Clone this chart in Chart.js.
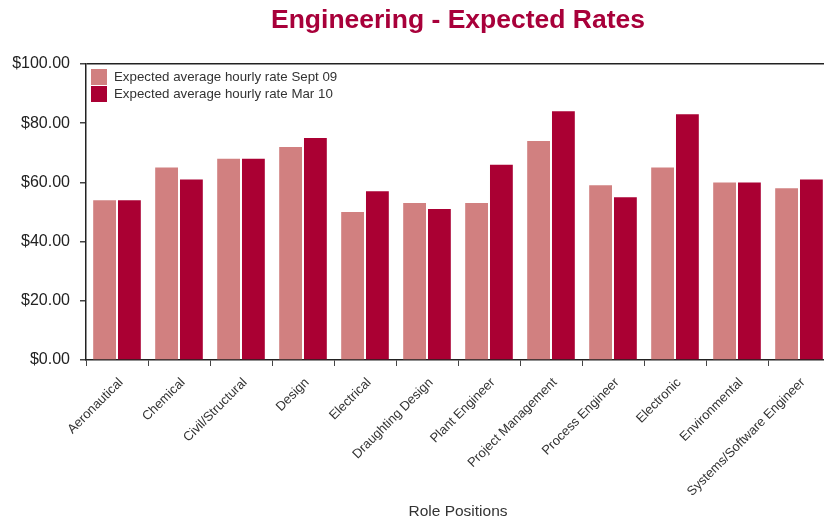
<!DOCTYPE html>
<html>
<head>
<meta charset="utf-8">
<script src="https://cdn.jsdelivr.net/npm/chart.js@4/dist/chart.umd.min.js"></script>
<style>
  html, body { margin: 0; padding: 0; background: #fff; overflow: hidden; }
  #wrap { width: 832px; height: 522px; }
</style>
</head>
<body>
<div id="wrap"><canvas id="ratesChart" width="832" height="522"></canvas></div>
<script>
// Données
const roles = ['Aeronautical', 'Chemical', 'Civil/Structural', 'Design', 'Electrical',
  'Draughting Design', 'Plant Engineer', 'Project Management', 'Process Engineer',
  'Electronic', 'Environmental', 'Systems/Software Engineer'];
const rateSept09 = [54, 65, 68, 72, 50, 53, 53, 74, 59, 65, 60, 58];
const rateMar10 = [54, 61, 68, 75, 57, 51, 66, 84, 55, 83, 60, 61];
const seriesNames = ['Expected average hourly rate Sept 09', 'Expected average hourly rate Mar 10'];
const yTicks = [0, 20, 40, 60, 80, 100];

const FONT = '"Liberation Sans", Arial, Helvetica, sans-serif';

// Légende dessinée dans la zone du graphique, en haut à gauche
const innerLegend = {
  id: 'innerLegend',
  afterDraw(chart) {
    const c = chart.ctx;
    const area = chart.chartArea;
    c.save();
    c.font = '13.3px ' + FONT;
    c.textBaseline = 'middle';
    chart.data.datasets.forEach((ds, i) => {
      const y = area.top + 5 + i * 17;
      c.fillStyle = ds.backgroundColor;
      c.fillRect(area.left + 5, y, 16, 16);
      c.fillStyle = '#333';
      c.fillText(ds.label, area.left + 28, y + 8.5);
    });
    c.restore();
  }
};

const ctx = document.getElementById('ratesChart').getContext('2d');
new Chart(ctx, {
  type: 'bar',
  data: {
    labels: roles,
    datasets: [
      { label: seriesNames[0], data: rateSept09, backgroundColor: '#d18080' },
      { label: seriesNames[1], data: rateMar10, backgroundColor: '#aa0033' }
    ]
  },
  options: {
    responsive: false,
    animation: false,
    layout: { padding: { left: 0, right: 2, top: 0, bottom: 0 } },
    datasets: { bar: { categoryPercentage: 0.8, barPercentage: 0.92 } },
    plugins: {
      legend: { display: false },
      tooltip: { enabled: false },
      title: {
        display: true,
        text: 'Engineering - Expected Rates',
        color: '#a8003a',
        fullSize: false,
        font: { family: FONT, size: 26.5, weight: 'bold' },
        padding: { top: 5, bottom: 27.2 }
      }
    },
    scales: {
      x: {
        grid: { display: true, color: 'transparent', tickColor: '#444', tickLength: 6, offset: true },
        border: { display: true, color: '#222', width: 1.5 },
        ticks: {
          color: '#333', maxRotation: 45, minRotation: 45, autoSkip: false,
          font: { family: FONT, size: 13 }, padding: 9, labelOffset: 4
        },
        title: {
          display: true, text: 'Role Positions', color: '#333',
          font: { family: FONT, size: 15.5 }, padding: { top: 4, bottom: 1 }
        },
        afterFit(scale) { scale.height = 162; }
      },
      y: {
        min: 0,
        max: 100,
        afterBuildTicks(scale) { scale.ticks = yTicks.map(v => ({ value: v })); },
        grid: {
          color: c => (c.tick && c.tick.value === 100 ? '#222' : 'transparent'),
          lineWidth: 1.5,
          tickColor: '#444',
          tickLength: 6
        },
        border: { display: true, color: '#222', width: 1.5 },
        ticks: {
          color: '#222', padding: 10,
          font: { family: FONT, size: 16 },
          callback: v => '$' + Number(v).toFixed(2)
        },
        afterFit(scale) { scale.width = 86; }
      }
    }
  },
  plugins: [innerLegend]
});
</script>
</body>
</html>
